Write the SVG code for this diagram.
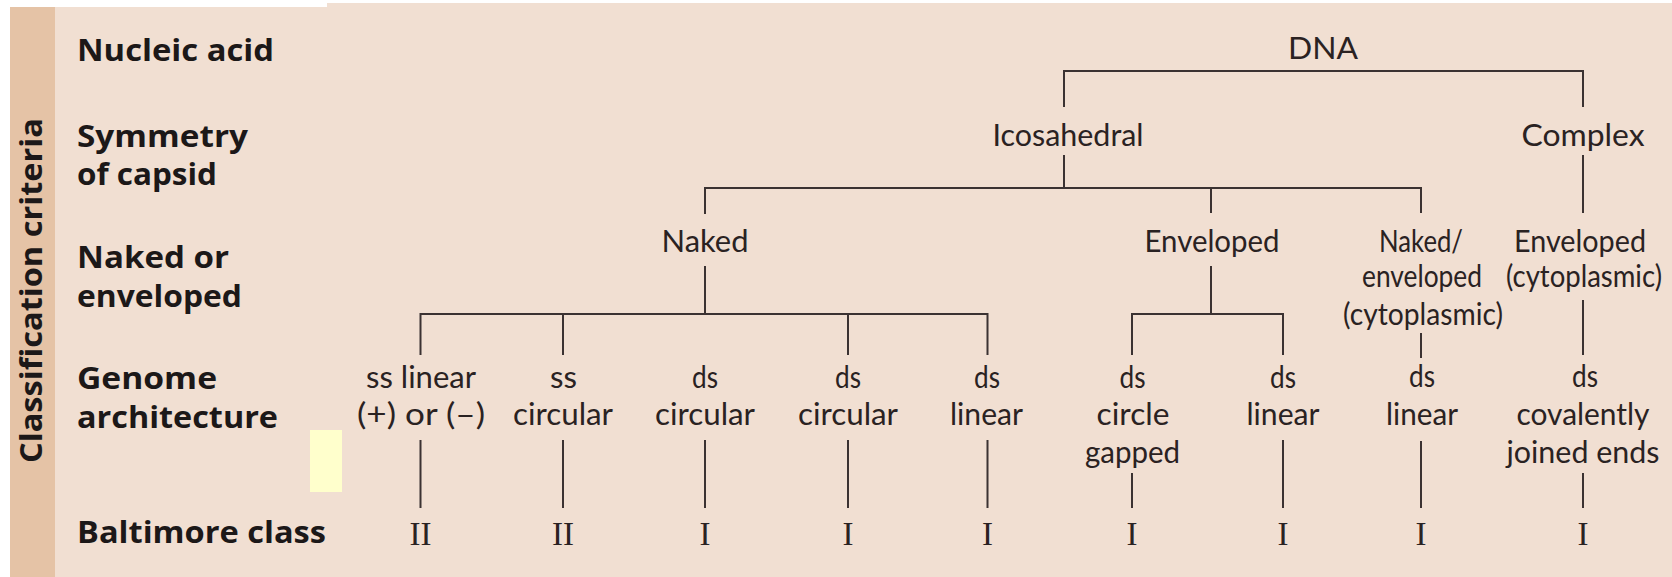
<svg xmlns="http://www.w3.org/2000/svg" width="1672" height="577" viewBox="0 0 1672 577">
<style>
.crit{font-family:"Open Sans",Lato,"Liberation Sans",sans-serif;font-weight:bold;font-size:30px;fill:#1c1818}
.t{font-family:Lato,"Open Sans","Liberation Sans",sans-serif;font-size:31px;fill:#2a2222;text-anchor:middle}
.n{font-family:"Liberation Serif",serif;font-size:33px;fill:#2a2222;text-anchor:middle}
.c{fill:none;stroke:#3b3232;stroke-width:2}
</style>
<rect x="0" y="0" width="1672" height="577" fill="#ffffff"/>
<rect x="10" y="7" width="1662" height="570" fill="#F1DFD2"/>
<rect x="327" y="3" width="1345" height="10" fill="#F1DFD2"/>
<rect x="10" y="7" width="45" height="570" fill="#E5C3A6"/>
<rect x="310" y="430" width="32" height="62" fill="#FFFFCC"/>
<g id="criteria">
<text class="crit" transform="translate(42,290.5) rotate(-90)" text-anchor="middle" textLength="345" lengthAdjust="spacingAndGlyphs" font-size="32">Classification criteria</text>
<text class="crit" x="77" y="61" textLength="197" lengthAdjust="spacingAndGlyphs">Nucleic acid</text>
<text class="crit" x="77" y="147" textLength="171" lengthAdjust="spacingAndGlyphs">Symmetry</text>
<text class="crit" x="77" y="185" textLength="140" lengthAdjust="spacingAndGlyphs">of capsid</text>
<text class="crit" x="77" y="268" textLength="152" lengthAdjust="spacingAndGlyphs">Naked or</text>
<text class="crit" x="77" y="307" textLength="165" lengthAdjust="spacingAndGlyphs">enveloped</text>
<text class="crit" x="77" y="389" textLength="140" lengthAdjust="spacingAndGlyphs">Genome</text>
<text class="crit" x="77" y="428" textLength="201" lengthAdjust="spacingAndGlyphs">architecture</text>
<text class="crit" x="77" y="543" textLength="249" lengthAdjust="spacingAndGlyphs">Baltimore class</text>
</g>
<g id="connectors" class="c">
<path d="M1064,107 V71 H1583 V107"/>
<path d="M1064,155 V188"/>
<path d="M705,214 V188 H1421 V213"/>
<path d="M1211,188 V213"/>
<path d="M1583,155 V213"/>
<path d="M705,266 V314"/>
<path d="M420.5,355 V314 H987.5 V355"/>
<path d="M563,314 V355 M848,314 V355"/>
<path d="M1211,266 V314"/>
<path d="M1132,355 V314 H1283 V355"/>
<path d="M1421,333 V358"/>
<path d="M1583,300 V355"/>
<path d="M420.5,440 V508 M563,440 V508 M705,440 V508 M848,440 V508 M987.5,440 V508 M1283,440 V508 M1421,441 V508"/>
<path d="M1132,473 V508 M1583,473 V508"/>
</g>
<g id="dna"><text class="t" x="1323" y="59" textLength="70" lengthAdjust="spacingAndGlyphs">DNA</text></g>
<g id="icosahedral"><text class="t" x="1068" y="146" textLength="151" lengthAdjust="spacingAndGlyphs">Icosahedral</text></g>
<g id="complex"><text class="t" x="1583" y="146" textLength="123" lengthAdjust="spacingAndGlyphs">Complex</text></g>
<g id="naked"><text class="t" x="705" y="251.5" textLength="87" lengthAdjust="spacingAndGlyphs">Naked</text></g>
<g id="enveloped"><text class="t" x="1212" y="251.5" textLength="135" lengthAdjust="spacingAndGlyphs">Enveloped</text></g>
<g id="naked-enveloped"><text class="t" x="1421" y="251.5" textLength="84" lengthAdjust="spacingAndGlyphs">Naked/</text><text class="t" x="1422" y="287" textLength="120" lengthAdjust="spacingAndGlyphs">enveloped</text><text class="t" x="1423" y="325" textLength="160" lengthAdjust="spacingAndGlyphs">(cytoplasmic)</text></g>
<g id="enveloped-cyto"><text class="t" x="1580" y="251.5" textLength="132" lengthAdjust="spacingAndGlyphs">Enveloped</text><text class="t" x="1584" y="287" textLength="156" lengthAdjust="spacingAndGlyphs">(cytoplasmic)</text></g>
<g id="g1"><text class="t" x="421" y="388" textLength="110" lengthAdjust="spacingAndGlyphs">ss linear</text><text class="t" x="421" y="425" textLength="128" lengthAdjust="spacingAndGlyphs">(+) or (–)</text></g>
<g id="g2"><text class="t" x="563.5" y="388" textLength="27" lengthAdjust="spacingAndGlyphs">ss</text><text class="t" x="563" y="425" textLength="100" lengthAdjust="spacingAndGlyphs">circular</text></g>
<g id="g3"><text class="t" x="705" y="388" textLength="26" lengthAdjust="spacingAndGlyphs">ds</text><text class="t" x="705" y="425" textLength="100" lengthAdjust="spacingAndGlyphs">circular</text></g>
<g id="g4"><text class="t" x="848" y="388" textLength="26" lengthAdjust="spacingAndGlyphs">ds</text><text class="t" x="848" y="425" textLength="100" lengthAdjust="spacingAndGlyphs">circular</text></g>
<g id="g5"><text class="t" x="987" y="388" textLength="26" lengthAdjust="spacingAndGlyphs">ds</text><text class="t" x="986.5" y="425" textLength="73" lengthAdjust="spacingAndGlyphs">linear</text></g>
<g id="g6"><text class="t" x="1132.5" y="388" textLength="26" lengthAdjust="spacingAndGlyphs">ds</text><text class="t" x="1133" y="425" textLength="73" lengthAdjust="spacingAndGlyphs">circle</text><text class="t" x="1132.5" y="463" textLength="95" lengthAdjust="spacingAndGlyphs">gapped</text></g>
<g id="g7"><text class="t" x="1283" y="388" textLength="26" lengthAdjust="spacingAndGlyphs">ds</text><text class="t" x="1283" y="425" textLength="73" lengthAdjust="spacingAndGlyphs">linear</text></g>
<g id="g8"><text class="t" x="1422" y="387" textLength="26" lengthAdjust="spacingAndGlyphs">ds</text><text class="t" x="1422" y="425" textLength="72" lengthAdjust="spacingAndGlyphs">linear</text></g>
<g id="g9"><text class="t" x="1585" y="387" textLength="26" lengthAdjust="spacingAndGlyphs">ds</text><text class="t" x="1583" y="425" textLength="133" lengthAdjust="spacingAndGlyphs">covalently</text><text class="t" x="1583" y="463" textLength="153" lengthAdjust="spacingAndGlyphs">joined ends</text></g>
<g id="baltimore">
<text class="n" x="420.5" y="545">II</text>
<text class="n" x="563" y="545">II</text>
<text class="n" x="705" y="545">I</text>
<text class="n" x="848" y="545">I</text>
<text class="n" x="987.5" y="545">I</text>
<text class="n" x="1132" y="545">I</text>
<text class="n" x="1283" y="545">I</text>
<text class="n" x="1421" y="545">I</text>
<text class="n" x="1583" y="545">I</text>
</g>
</svg>
